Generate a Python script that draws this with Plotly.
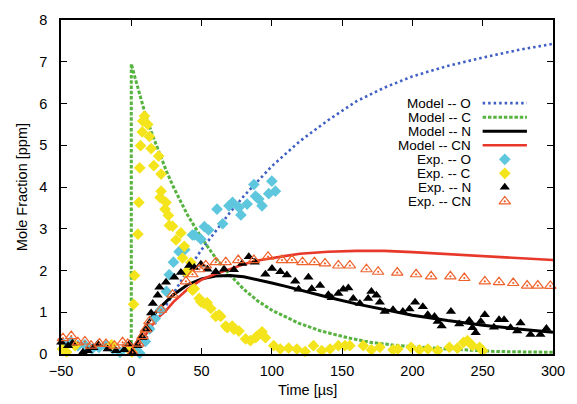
import plotly.graph_objects as go

# ---- model curves (time in microseconds, mole fraction in ppm) ----
mod_o_t = [0, 5, 10, 20, 30, 40, 50, 60, 70, 80, 90, 100, 120, 140, 160, 180, 200, 225, 250, 275, 300]
mod_o_y = [0, 0.12, 0.35, 0.9, 1.45, 2.0, 2.5, 2.95, 3.38, 3.78, 4.15, 4.5, 5.1, 5.6, 6.05, 6.38, 6.65, 6.9, 7.1, 7.28, 7.43]

mod_c_t = [0, 0, 2, 5, 10, 15, 20, 25, 30, 40, 50, 60, 70, 80, 90, 100, 119, 135, 154, 170, 190, 205, 225, 260, 300]
mod_c_y = [0, 6.95, 6.7, 6.32, 5.74, 5.25, 4.8, 4.38, 4.0, 3.33, 2.78, 2.3, 1.9, 1.55, 1.27, 1.05, 0.74, 0.55, 0.39, 0.28, 0.2, 0.16, 0.12, 0.06, 0.04]

mod_n_t = [0, 5, 10, 15, 20, 25, 30, 40, 50, 60, 70, 80, 90, 100, 110, 120, 140, 160, 180, 200, 225, 250, 275, 300]
mod_n_y = [0, 0.35, 0.65, 0.9, 1.1, 1.27, 1.42, 1.66, 1.8, 1.87, 1.88, 1.85, 1.78, 1.7, 1.62, 1.53, 1.36, 1.2, 1.06, 0.93, 0.8, 0.69, 0.6, 0.52]

mod_cn_t = [0, 5, 10, 15, 20, 25, 30, 40, 50, 60, 70, 80, 90, 100, 110, 120, 140, 160, 180, 200, 225, 250, 275, 300]
mod_cn_y = [0, 0.2, 0.45, 0.7, 0.9, 1.05, 1.25, 1.55, 1.78, 1.92, 2.03, 2.15, 2.24, 2.3, 2.35, 2.4, 2.45, 2.47, 2.47, 2.44, 2.39, 2.34, 2.29, 2.25]

# ---- experimental data ----
exp_o_t = [-48, -43, -38, -33, -28, -23, -18, -13, -8, -3,
           2, 6, 10, 13, 17, 21, 25, 27, 30, 34,
           38, 43.5, 45, 49.5, 52, 55, 61, 65, 69.5, 72,
           76.6, 78, 82.4, 87.2, 88.4, 90.7, 93, 97.8, 100, 102.5]
exp_o_y = [0.24, 0.30, 0.2, 0.22, 0.12, 0.16, 0.2, 0.12, 0.04, 0.16,
           0.1, 0.02, 0.3, 0.6, 0.85, 1.06, 1.5, 1.9, 2.2, 2.45,
           2.5, 2.85, 2.85, 2.75, 3.05, 2.97, 3.47, 3.12, 3.55, 3.63,
           3.51, 3.33, 3.59, 4.06, 3.78, 3.71, 3.55, 3.84, 4.14, 3.9]

exp_c_t = [-49, -46, -40, -14, -1, 0.5, 1.6, 2.3, 4.7, 5.4,
           6.0, 6.6, 7.8, 8.2, 9.4, 11.7, 12.9, 14.1, 16.0, 19.5,
           21.2, 21.2, 20.5, 24.7, 24.0, 26.4, 27.1, 29.4, 31.8, 35.3,
           37.7, 36.5, 42.4, 40.0, 38.9, 43.5, 44.8, 48.3, 49.5, 51.8,
           54.0, 56.6, 60.1, 62.4, 63.6, 67.2, 68.3, 71.8, 73.0, 76.6,
           81.3, 84.8, 88.4, 89.5, 93.0, 95.4, 101.3, 106.0, 111.9, 117.8,
           123.7, 129.6, 135.5, 141.4, 147.3, 152.0, 155.5, 165.0, 170.8, 176.8,
           186.2, 189.7, 199.0, 205.0, 211.0, 218.0, 226.3, 232.0, 236.4, 239.2,
           242.7, 247.8, 250.0]
exp_c_y = [0.12, 0.05, 0.2, 0.22, 0.15, 0.05, 1.19, 1.88, 2.87, 3.63,
           4.46, 4.99, 5.32, 5.58, 5.70, 5.50, 5.21, 4.92, 4.51, 4.74,
           4.31, 3.90, 3.75, 3.63, 3.47, 3.32, 3.08, 3.06, 2.73, 2.90,
           2.58, 2.30, 2.19, 1.99, 1.95, 1.53, 1.56, 1.33, 1.25, 1.21,
           1.23, 1.09, 0.90, 0.94, 0.90, 0.67, 0.63, 0.67, 0.59, 0.55,
           0.36, 0.32, 0.39, 0.43, 0.53, 0.39, 0.20, 0.12, 0.14, 0.12,
           0.06, 0.20, 0.08, 0.12, 0.20, 0.20, 0.20, 0.20, 0.10, 0.16,
           0.10, 0.12, 0.16, 0.10, 0.12, 0.08, 0.16, 0.14, 0.28, 0.32,
           0.20, 0.16, 0.08]

exp_n_t = [-49.8, -45, -41.9, -34.4, -30.9, -27, -23.8, -16.8, -10.9, -5,
           -1.4, 0.9, 4.5, 8, 11.5, 14.1, 15.3, 18.8, 20, 24.7,
           30.6, 35.3, 41.2, 44.8, 49.5, 54.2, 60.1, 66, 73, 78.9,
           83.6, 87.9, 95.4, 100.1, 106, 110.7, 116.6, 119, 126, 128.4,
           134.3, 140.2, 142.6, 147.3, 150.8, 154.4, 157.9, 162.6, 168.5, 170.8,
           174.4, 176.8, 180.3, 186.2, 193.2, 197.9, 201.9, 207.4, 210.9, 215.7,
           218, 220.8, 227.4, 233.3, 240.4, 242.7, 245, 248.6, 251.5, 258,
           261.6, 265.2, 269.8, 274.6, 276.9, 284, 291, 295.3]
exp_n_y = [0.28, 0.2, 0.26, 0.04, 0.08, 0.15, 0.24, 0.12, 0.08, 0.1,
           0.24, 0.04, 0.2, 0.39, 0.59, 0.98, 1.21, 1.41, 1.60, 1.72,
           1.84, 1.95, 2.12, 2.07, 2.15, 2.03, 1.97, 2.03, 2.02, 2.17,
           2.33, 2.20, 1.91, 2.05, 1.97, 1.89, 1.74, 1.55, 1.84, 1.56,
           1.64, 1.42, 1.35, 1.45, 1.55, 1.58, 1.33, 1.21, 1.33, 1.50,
           1.41, 1.24, 1.02, 1.06, 1.02, 1.08, 1.24, 1.13, 0.94, 0.90,
           0.78, 0.67, 1.02, 0.72, 0.80, 0.63, 0.51, 0.78, 0.94, 0.64,
           0.82, 0.82, 0.63, 0.55, 0.74, 0.47, 0.47, 0.61]

exp_cn_t = [-48.6, -42.7, -38, -33, -28.6, -22.6, -18, -12, -6.2, -2.6,
            0.9, 5, 8, 10.3, 12.9, 21.2, 29.4, 38.9, 43.5, 48.3,
            53, 60.1, 67.2, 76.1, 87.2, 97.3, 107.2, 114.3, 121.8, 130.3,
            137.8, 147.3, 155.5, 167.3, 175.6, 189.2, 202.6, 213.3, 227, 236.9,
            251.5, 261.6, 271.7, 281.6, 289.2, 298.1]
exp_cn_y = [0.38, 0.43, 0.28, 0.3, 0.2, 0.25, 0.24, 0.2, 0.28, 0.24,
            0.04, 0.25, 0.43, 0.59, 0.78, 1.06, 1.42, 1.74, 1.91, 2.03,
            2.12, 2.20, 2.20, 2.25, 2.25, 2.33, 2.25, 2.25, 2.20, 2.20,
            2.17, 2.12, 2.12, 2.03, 1.97, 1.95, 1.91, 1.86, 1.86, 1.82,
            1.74, 1.72, 1.70, 1.64, 1.64, 1.63]

x_ticks = [-50, 0, 50, 100, 150, 200, 250, 300]
y_ticks = [0, 1, 2, 3, 4, 5, 6, 7, 8]

FONT = "Liberation Sans, Arial, Helvetica, sans-serif"
TXT = 14.5
KEY_TXT = 13.5
C_BLUE = "#3f5fc4"
C_GREEN = "#56b33f"
C_BLACK = "#000000"
C_RED = "#e8382a"
C_CYAN = "#5ec7dd"
C_YELLOW = "#f4e41c"
C_ORANGE = "#f0622c"

models = [
    ("Model -- O", mod_o_t, mod_o_y, dict(color=C_BLUE, width=2.6, dash="2.5px,3px")),
    ("Model -- C", mod_c_t, mod_c_y, dict(color=C_GREEN, width=3, dash="3.5px,1.8px")),
    ("Model -- N", mod_n_t, mod_n_y, dict(color=C_BLACK, width=3)),
    ("Model -- CN", mod_cn_t, mod_cn_y, dict(color=C_RED, width=2.6)),
]
exps = [
    ("Exp. -- O", exp_o_t, exp_o_y, dict(symbol="diamond", size=9, color=C_CYAN, line=dict(width=0))),
    ("Exp. -- C", exp_c_t, exp_c_y, dict(symbol="diamond", size=9, color=C_YELLOW, line=dict(width=0))),
    ("Exp. -- N", exp_n_t, exp_n_y, dict(symbol="triangle-up", size=9, color=C_BLACK, line=dict(width=0))),
    ("Exp. -- CN", exp_cn_t, exp_cn_y, dict(symbol="triangle-up-open-dot", size=10, color=C_ORANGE,
                                             line=dict(width=1.2, color=C_ORANGE))),
]

fig = go.Figure()
for name, t, y, ln in models:
    fig.add_trace(go.Scatter(x=t, y=y, mode="lines", name=name, line=ln,
                             showlegend=False, cliponaxis=True))
for name, t, y, mk in exps:
    fig.add_trace(go.Scatter(x=t, y=y, mode="markers", name=name, marker=mk,
                             showlegend=False, cliponaxis=False))

# key drawn inside the plot area: right-aligned labels with samples to the right
key_top = 0.751
key_step = 0.042
label_x = 0.838
sample_x0, sample_x1 = 0.857, 0.947
for i, (name, _, _, ln) in enumerate(models):
    yk = key_top - i * key_step
    fig.add_annotation(x=label_x, y=yk, xref="paper", yref="paper", text=name,
                       showarrow=False, xanchor="right", yanchor="middle",
                       font=dict(family=FONT, size=KEY_TXT, color="black"))
    fig.add_shape(type="line", xref="paper", yref="paper",
                  x0=sample_x0, x1=sample_x1, y0=yk, y1=yk, line=ln)
for j, (name, _, _, mk) in enumerate(exps):
    yk = key_top - (len(models) + j) * key_step
    fig.add_annotation(x=label_x, y=yk, xref="paper", yref="paper", text=name,
                       showarrow=False, xanchor="right", yanchor="middle",
                       font=dict(family=FONT, size=KEY_TXT, color="black"))
    fig.add_trace(go.Scatter(x=[(sample_x0 + sample_x1) / 2], y=[yk], xaxis="x2", yaxis="y2",
                             mode="markers", marker=mk, showlegend=False, hoverinfo="skip"))

axis_common = dict(showline=True, linecolor="black", linewidth=1.5, mirror="allticks",
                   ticks="inside", ticklen=6, tickwidth=1, tickcolor="black",
                   showgrid=False, zeroline=False,
                   tickfont=dict(family=FONT, size=TXT, color="black"))

fig.update_layout(
    width=577, height=404,
    margin=dict(l=61, r=21, t=12, b=50),
    paper_bgcolor="white", plot_bgcolor="white",
    font=dict(family=FONT, size=TXT, color="black"),
    xaxis=dict(range=[-50, 300], tickvals=x_ticks, ticklabelstandoff=3, **axis_common),
    yaxis=dict(range=[0, 8], tickvals=y_ticks, ticklabelstandoff=9, **axis_common),
    xaxis2=dict(overlaying="x", range=[0, 1], visible=False),
    yaxis2=dict(overlaying="y", range=[0, 1], visible=False),
    showlegend=False,
)
fig.add_annotation(x=0.5, y=-0.108, xref="paper", yref="paper", text="Time [µs]",
                   showarrow=False, xanchor="center", yanchor="middle",
                   font=dict(family=FONT, size=TXT))
fig.add_annotation(x=-0.079, y=0.5, xref="paper", yref="paper", text="Mole Fraction [ppm]",
                   showarrow=False, textangle=-90, xanchor="center", yanchor="middle",
                   font=dict(family=FONT, size=TXT))

fig.write_html("out.html")
